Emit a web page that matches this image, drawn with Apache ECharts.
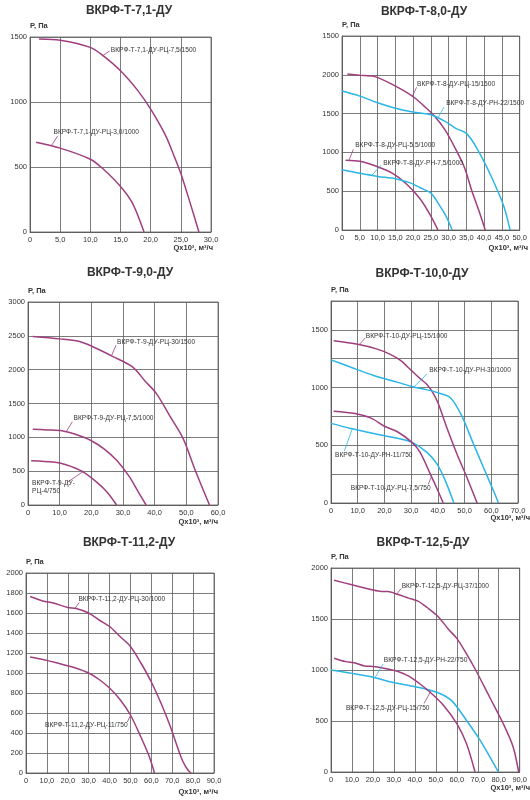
<!DOCTYPE html>
<html>
<head>
<meta charset="utf-8">
<script src="https://cdn.jsdelivr.net/npm/echarts@6/dist/echarts.min.js"></script>
<style>
html, body { margin: 0; padding: 0; background: #fff; }
#main { width: 530px; height: 800px; }
</style>
</head>
<body>
<div id="main"></div>
<script>
// ---- данные кривых: [Q x10^3 м3/ч, P Па] ----
// ВКРФ-Т-7,1-ДУ
var t71_rc75 = [[1.5,1485],[5,1475],[10,1420],[12,1360],[15,1240],[18,1080],[20,945],[22.5,740],[24,570],[25,450],[26.5,230],[28,0]];
var t71_rc30 = [[1,690],[5,645],[10,560],[12,490],[15,350],[17,220],[18.9,0]];
// ВКРФ-Т-8,0-ДУ
var t80_rc15 = [[1.5,2010],[5,1995],[9,1980],[14,1880],[20,1720],[23,1600],[26,1470],[29,1290],[32,1040],[34.5,800],[36.5,510],[38.5,250],[40.3,0]];
var t80_rn22 = [[0,1790],[5,1725],[10,1640],[15,1570],[20,1520],[25,1485],[29,1400],[32,1310],[35,1245],[38,1050],[42,690],[45.5,310],[47.3,0]];
var t80_rc55 = [[1,900],[5,885],[10,815],[14,735],[18,600],[22,400],[25,180],[27,0]];
var t80_rn75 = [[0,775],[5,730],[10,690],[15,660],[19,610],[22,545],[25,475],[27,350],[29.3,175],[31,0]];
// ВКРФ-Т-9,0-ДУ
var t90_rc30 = [[1.5,2490],[10,2455],[16,2420],[20,2350],[27,2190],[33,2040],[37,1830],[40.5,1650],[45,1300],[49,980],[53,490],[57.3,0]];
var t90_rc75 = [[1.5,1120],[6,1110],[11,1095],[15,1045],[20,950],[24,830],[28,660],[32,420],[35,180],[37.3,0]];
var t90_rc4 = [[1,655],[8,635],[12,595],[17,500],[21.5,345],[25,190],[28,0]];
// ВКРФ-Т-10,0-ДУ
var t100_rc15 = [[1,1405],[10,1375],[17,1335],[22,1290],[26,1235],[30,1150],[33.5,1075],[36,1025],[38,960],[40,870],[43.3,656],[47.1,427],[50.8,226],[54.7,0]];
var t100_rn30 = [[0,1240],[7,1180],[16,1105],[25,1045],[31,1005],[36,980],[40,955],[44.6,914],[48.9,757],[53.3,513],[57,312],[60.2,140],[62.7,0]];
var t100_rc75 = [[1,795],[9,775],[15,735],[20,665],[25,615],[30.2,527],[33.3,441],[37.1,255],[40.2,97],[42,0]];
var t100_rn11 = [[0,690],[7,648],[16,602],[25.8,556],[30.2,527],[35.8,441],[39.6,341],[42.7,198],[46,0]];
// ВКРФ-Т-11,2-ДУ
var t112_rc30 = [[2,1765],[8,1720],[13,1700],[20,1655],[24,1645],[30,1600],[35,1530],[40,1465],[45,1365],[50,1265],[55,1100],[60,910],[65,680],[69,470],[72,290],[75,120],[77.5,30],[79,0]];
var t112_rc11 = [[2,1160],[8,1135],[15,1100],[23,1055],[30,1000],[35,935],[40,850],[45,735],[50,580],[55,360],[59,165],[61.5,0]];
// ВКРФ-Т-12,5-ДУ
var t125_rc37 = [[1.5,1880],[10,1835],[19,1790],[24,1770],[27,1770],[32,1740],[37,1705],[41.5,1675],[46,1610],[51,1525],[56,1400],[60,1310],[64,1180],[69,1000],[75.5,740],[82,480],[86.8,250],[89.5,0]];
var t125_rc15 = [[1.5,1115],[7,1082],[11,1072],[16,1040],[21,1033],[27,1010],[32,985],[37.5,935],[42,870],[47,787],[53.5,657],[60,475],[64.6,280],[68.7,0]];
var t125_rn22 = [[0,1000],[10,967],[21,925],[28,885],[40,836],[47,804],[53,760],[58,690],[64.5,510],[71,315],[75.7,150],[79.8,0]];

// подписи оси P для ВКРФ-Т-8,0 (верхняя подпись в оригинале "1500")
var yLabels80 = ['0', '500', '1000', '1500', '2000', '1500'];

var MAG = '#9f3f7f';
var CYAN = '#2ab5e5';

var panels = [
    {title: 'ВКРФ-Т-7,1-ДУ',  xMax: 30, xStep: 5,  yMax: 1500, yStep: 500},
    {title: 'ВКРФ-Т-8,0-ДУ',  xMax: 50, xStep: 5,  yMax: 2500, yStep: 500, yLabels: yLabels80},
    {title: 'ВКРФ-Т-9,0-ДУ',  xMax: 60, xStep: 10, yMax: 3000, yStep: 500},
    {title: 'ВКРФ-Т-10,0-ДУ', xMax: 70, xStep: 10, yMax: 1750, yStep: 250, yLabelStep: 500},
    {title: 'ВКРФ-Т-11,2-ДУ', xMax: 90, xStep: 10, yMax: 2000, yStep: 200},
    {title: 'ВКРФ-Т-12,5-ДУ', xMax: 90, xStep: 10, yMax: 2000, yStep: 500}
];

// расположение графиков на странице (xn - сдвиг подписи Q вправо, xny - вниз от оси)
var layout = [
    {left: 30,  top: 37,  w: 181, h: 195, cx: 129, ty: 5,   xn: 2,  xny: 16},
    {left: 342, top: 36,  w: 179, h: 194, cx: 424, ty: 6,   xn: 7,  xny: 18},
    {left: 28,  top: 302, w: 190, h: 203, cx: 130, ty: 267, xn: 0,  xny: 17},
    {left: 331, top: 301, w: 187, h: 202, cx: 422, ty: 268, xn: 12, xny: 15},
    {left: 26,  top: 573, w: 188, h: 200, cx: 129, ty: 537, xn: 4,  xny: 19},
    {left: 331, top: 568, w: 189, h: 204, cx: 423, ty: 537, xn: 10, xny: 16}
];

// кривые и выноски: from -> to линия выноски, at - начало текста
var curves = [
    {p: 0, c: MAG,  d: t71_rc75, text: 'ВКРФ-Т-7,1-ДУ-РЦ-7,5/1500', from: [12,1355], to: [13.2,1392], at: [13.4,1402]},
    {p: 0, c: MAG,  d: t71_rc30, text: 'ВКРФ-Т-7,1-ДУ-РЦ-3,0/1000', from: [3.6,668], to: [4.6,740], at: [3.9,770]},
    {p: 1, c: MAG,  d: t80_rc15, text: 'ВКРФ-Т-8-ДУ-РЦ-15/1500', from: [19.8,1725], to: [21,1840], at: [21.1,1875]},
    {p: 1, c: CYAN, d: t80_rn22, text: 'ВКРФ-Т-8-ДУ-РН-22/1500', from: [27,1445], to: [28.7,1585], at: [29.3,1630]},
    {p: 1, c: MAG,  d: t80_rc55, text: 'ВКРФ-Т-8-ДУ-РЦ-5,5/1000', from: [1.9,890], to: [3.2,1040], at: [3.7,1090]},
    {p: 1, c: CYAN, d: t80_rn75, text: 'ВКРФ-Т-8-ДУ-РН-7,5/1000', from: [8.4,705], to: [11,835], at: [11.6,862]},
    {p: 2, c: MAG,  d: t90_rc30, text: 'ВКРФ-Т-9-ДУ-РЦ-30/1500', from: [26.3,2200], to: [27.8,2360], at: [28.1,2410]},
    {p: 2, c: MAG,  d: t90_rc75, text: 'ВКРФ-Т-9-ДУ-РЦ-7,5/1000', from: [12.1,1085], to: [14,1230], at: [14.4,1280]},
    {p: 2, c: MAG,  d: t90_rc4,  text: 'ВКРФ-Т-9-ДУ-\nРЦ-4/750', from: [17.4,495], to: [12.3,330], at: [1.3,258]},
    {p: 3, c: MAG,  d: t100_rc15, text: 'ВКРФ-Т-10-ДУ-РЦ-15/1000', from: [10.5,1370], to: [12.8,1430], at: [13,1448]},
    {p: 3, c: CYAN, d: t100_rn30, text: 'ВКРФ-Т-10-ДУ-РН-30/1000', from: [31,1005], to: [35.9,1118], at: [36.8,1147]},
    {p: 3, c: CYAN, d: t100_rn11, text: 'ВКРФ-Т-10-ДУ-РН-11/750', from: [8,645], to: [5,450], at: [1.5,416]},
    {p: 3, c: MAG,  d: t100_rc75, text: 'ВКРФ-Т-10-ДУ-РЦ-7,5/750', from: [37.7,235], to: [36.4,160], at: [7.4,125]},
    {p: 4, c: MAG,  d: t112_rc30, text: 'ВКРФ-Т-11,2-ДУ-РЦ-30/1000', from: [23.5,1648], to: [25.5,1705], at: [25.1,1734]},
    {p: 4, c: MAG,  d: t112_rc11, text: 'ВКРФ-Т-11,2-ДУ-РЦ-11/750', from: [50,575], to: [48.5,510], at: [9.1,482]},
    {p: 5, c: MAG,  d: t125_rc37, text: 'ВКРФ-Т-12,5-ДУ-РЦ-37/1000', from: [31.3,1742], to: [33.5,1800], at: [33.7,1820]},
    {p: 5, c: CYAN, d: t125_rn22, text: 'ВКРФ-Т-12,5-ДУ-РН-22/750', from: [21,925], to: [24.9,1060], at: [25.2,1098]},
    {p: 5, c: MAG,  d: t125_rc15, text: 'ВКРФ-Т-12,5-ДУ-РЦ-15/750', from: [47.5,790], to: [44.4,672], at: [7.1,630]}
];

var FONT = 'Liberation Sans, Arial, sans-serif';
var GRIDC = '#5a5a5a';

function fmtQ(v) {
    if (v === 0) return '0';
    return v.toFixed(1).replace('.', ',');
}

var grids = [], xAxes = [], yAxes = [], titles = [], series = [], texts = [];

for (var i = 0; i < panels.length; i++) {
    var p = panels[i], L = layout[i];
    grids.push({
        left: L.left, top: L.top, width: L.w, height: L.h,
        show: true, borderColor: GRIDC, borderWidth: 0.8
    });
    titles.push({
        text: p.title, left: L.cx, top: L.ty, textAlign: 'center', padding: 0,
        textStyle: {fontSize: 12, fontWeight: 'bold', color: '#333', fontFamily: FONT}
    });
    // подпись оси Q под правым концом оси
    texts.push({
        type: 'text', silent: true,
        x: L.left + L.w + L.xn, y: L.top + L.h + L.xny,
        style: {text: 'Qx10³, м³/ч', align: 'right', verticalAlign: 'middle',
                font: 'bold 7.5px ' + FONT, fill: '#333'}
    });
    xAxes.push({
        type: 'value', gridIndex: i, min: 0, max: p.xMax, interval: p.xStep,
        axisLine: {show: true, lineStyle: {color: GRIDC, width: 0.8}},
        axisTick: {show: false},
        splitLine: {show: true, lineStyle: {color: GRIDC, width: 0.8}},
        axisLabel: {fontSize: 7.5, color: '#333', margin: 4, fontFamily: FONT, formatter: fmtQ}
    });
    (function (p) {
        yAxes.push({
            type: 'value', gridIndex: i, min: 0, max: p.yMax, interval: p.yStep,
            name: 'P, Па', nameLocation: 'end', nameGap: 7,
            nameTextStyle: {fontSize: 7.5, fontWeight: 'bold', color: '#333', fontFamily: FONT, align: 'left'},
            axisLine: {show: true, lineStyle: {color: GRIDC, width: 0.8}},
            axisTick: {show: false},
            splitLine: {show: true, lineStyle: {color: GRIDC, width: 0.8}},
            axisLabel: {
                fontSize: 7.5, color: '#333', margin: 3, fontFamily: FONT,
                formatter: function (v) {
                    if (p.yLabels) return p.yLabels[Math.round(v / p.yStep)];
                    if (p.yLabelStep && v % p.yLabelStep !== 0) return '';
                    return String(v);
                }
            }
        });
    })(p);
}

for (var k = 0; k < curves.length; k++) {
    var c = curves[k];
    series.push({
        type: 'line',
        xAxisIndex: c.p, yAxisIndex: c.p,
        data: c.d,
        showSymbol: false,
        smooth: 0.3,
        silent: true,
        lineStyle: {color: c.c, width: 1.5},
        markLine: {
            silent: true, symbol: ['none', 'none'], animation: false,
            lineStyle: {color: c.c, width: 0.8, type: 'solid'},
            label: {show: false},
            data: [[{coord: c.from}, {coord: c.to}]]
        },
        markPoint: {
            silent: true, symbol: 'circle', symbolSize: 0, animation: false,
            label: {
                show: true, position: 'right', distance: 0,
                fontSize: 6.6, lineHeight: 8, color: '#333', fontFamily: FONT,
                formatter: c.text
            },
            data: [{coord: c.at, value: 0}]
        }
    });
}

var myChart = echarts.init(document.getElementById('main'));
var option = {
    backgroundColor: '#fff',
    animation: false,
    title: titles,
    grid: grids,
    xAxis: xAxes,
    yAxis: yAxes,
    graphic: texts,
    series: series
};
myChart.setOption(option);
</script>
</body>
</html>
